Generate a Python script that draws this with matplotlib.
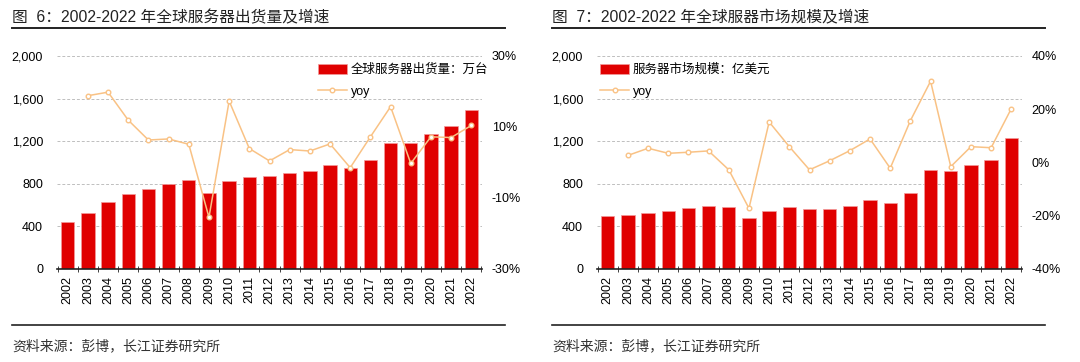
import numpy as np
import matplotlib
matplotlib.use("Agg")
import matplotlib.pyplot as plt
from matplotlib.lines import Line2D
from matplotlib.ticker import FuncFormatter

plt.rcParams['font.family'] = ['Liberation Sans', 'Noto Sans CJK SC', 'DejaVu Sans']
plt.rcParams['axes.unicode_minus'] = False

# data
years = [str(y) for y in range(2002, 2023)]

shipments = [442, 527, 627, 700, 753, 797, 837, 712, 825, 860, 869,
             897, 919, 972, 950, 1025, 1180, 1180, 1264, 1346, 1490]
shipments_yoy = [np.nan, 18.8, 19.8, 11.9, 6.3, 6.6, 5.1, -15.5, 17.3, 3.9, 0.4,
                 3.6, 3.2, 5.2, -1.5, 7.2, 15.7, -0.3, 7.2, 7.0, 10.4]

market = [496, 508, 527, 546, 568, 590, 578, 474, 546, 578, 559,
          559, 590, 643, 621, 712, 931, 919, 972, 1025, 1232]
market_yoy = [np.nan, 2.6, 5.3, 3.4, 3.8, 4.3, -2.8, -17.3, 15.2, 5.9, -2.8,
              0.6, 4.4, 8.8, -2.2, 15.7, 30.5, -1.6, 5.9, 5.5, 20.2]

W, H = 1080, 362
BAR_COLOR = '#e00000'
LINE_COLOR = '#f9c285'

fig = plt.figure(figsize=(W / 100, H / 100), dpi=100)


def panel(x0, title, values, yoy, bar_label, yoy_ticks, legend_loc, legend_anchor):
    # frame lines and texts
    fig.text((x0 + 12) / W, 1 - 18 / H, title, fontsize=11.3, va='center', ha='left',
             color='#222222')
    fig.add_artist(Line2D([(x0 + 12) / W, (x0 + 505) / W], [1 - 28 / H] * 2,
                          color='#222222', lw=1.4))
    fig.add_artist(Line2D([(x0 + 12) / W, (x0 + 505) / W], [1 - 325 / H] * 2,
                          color='#222222', lw=1.2))
    fig.text((x0 + 12) / W, 1 - 346 / H, '资料来源：彭博，长江证券研究所', fontsize=10,
             va='center', ha='left', color='#333333')

    ax = fig.add_axes([(x0 + 57) / W, 1 - 268.7 / H, 425 / W, 212.7 / H])
    x = np.arange(len(years))
    ax.bar(x, values, width=0.66, color=BAR_COLOR, edgecolor='#f29a9a',
           linewidth=0.5, label=bar_label, zorder=2)
    ax.set_xlim(-0.53, 20.53)
    ax.set_ylim(0, 2000)
    ax.set_yticks(range(0, 2001, 400))
    ax.yaxis.set_major_formatter(FuncFormatter(lambda v, p: f'{int(v):,}'))
    ax.yaxis.grid(True, color='#bfbfbf', ls=(0, (3, 2)), lw=0.7)
    ax.set_axisbelow(True)
    ax.set_xticks(x)
    ax.set_xticklabels(years, rotation=90, fontsize=9)
    ax.set_xticks(np.arange(-0.5, 21, 1), minor=True)
    ax.tick_params(axis='x', which='major', length=0, pad=5)
    ax.tick_params(axis='x', which='minor', length=4, direction='inout', color='#222222')
    ax.tick_params(axis='y', length=0, labelsize=9, pad=10)
    for s in ['top', 'right', 'left']:
        ax.spines[s].set_visible(False)
    ax.spines['bottom'].set_color('#222222')
    ax.spines['bottom'].set_linewidth(1.2)

    ax2 = ax.twinx()
    ax2.plot(x, yoy, color=LINE_COLOR, lw=1.1, marker='o', ms=3.3,
             mfc='white', mec=LINE_COLOR, mew=1.0, label='yoy', zorder=3)
    ax2.set_ylim(yoy_ticks[0], yoy_ticks[-1])
    ax2.set_yticks(yoy_ticks)
    ax2.set_yticklabels([f'{t}%' for t in yoy_ticks])
    ax2.tick_params(axis='y', length=0, labelsize=9, pad=7)
    for s in ['top', 'right', 'left', 'bottom']:
        ax2.spines[s].set_visible(False)

    h1, l1 = ax.get_legend_handles_labels()
    h2, l2 = ax2.get_legend_handles_labels()
    ax2.legend(h1 + h2, l1 + l2, loc=legend_loc, bbox_to_anchor=legend_anchor,
               frameon=False, fontsize=9, handlelength=2.3, handleheight=0.9,
               labelspacing=0.75, handletextpad=0.3, borderaxespad=0.2)


panel(0, '图  6：2002-2022 年全球服务器出货量及增速', shipments, shipments_yoy,
      '全球服务器出货量：万台', [-30, -10, 10, 30], 'upper right', (1.032, 1.0))
panel(540, '图  7：2002-2022 年全球服器市场规模及增速', market, market_yoy,
      '服务器市场规模：亿美元', [-40, -20, 0, 20, 40], 'upper left', (-0.01, 1.0))

fig.savefig('out.png', dpi=100)
